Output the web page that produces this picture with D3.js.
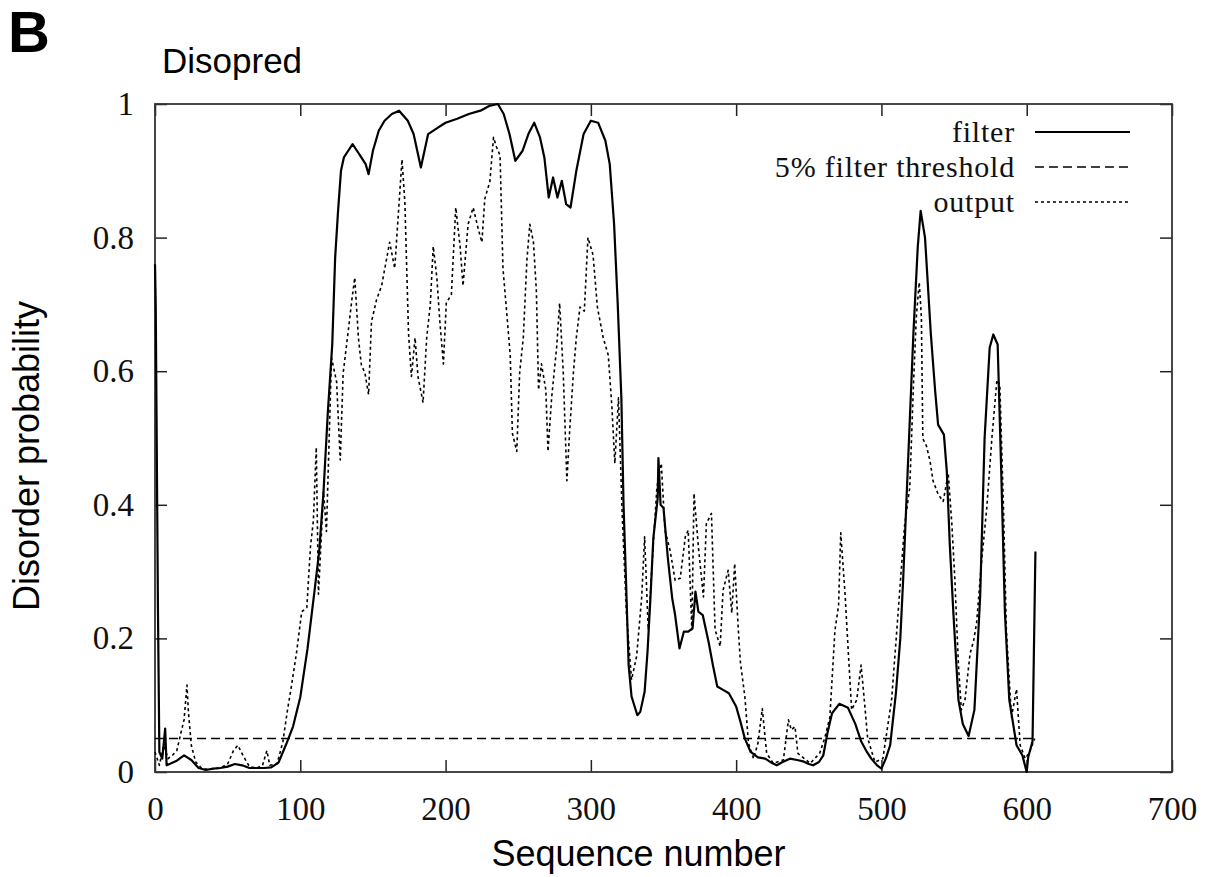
<!DOCTYPE html>
<html>
<head>
<meta charset="utf-8">
<script src="https://cdn.jsdelivr.net/npm/d3@7"></script>
<style>
  body { margin: 0; background: #fff; }
  svg { display: block; }
</style>
</head>
<body>
<svg id="chart"></svg>
<script>
var width = 1210,
    height = 877,
    plotLeft = 155,
    plotRight = 1172,
    plotTop = 104,
    plotBottom = 772;

// sequence positions and probabilities
var filterSeq = [0, 0.5, 1, 2, 3, 5, 7, 8, 10, 15, 20, 25, 30, 35, 40, 45, 50, 55, 60, 65, 70, 75, 80, 85, 90, 95,
    100, 105, 110, 113, 116, 119, 122, 124, 126, 128, 130, 133, 136, 139, 142, 145, 147, 150, 154, 158,
    163, 168, 174, 178, 183, 188, 195, 200, 208, 216, 224, 230, 236, 240, 244, 248, 253, 257, 261, 265,
    268, 271, 274, 277, 280, 283, 286, 290, 295, 300, 305, 310, 313, 316, 318.5, 321, 322.5, 324, 326,
    328, 332, 334, 337, 339, 341, 343, 346, 346.5, 348, 350, 353, 356, 358, 361, 364, 367, 370, 372, 374,
    377, 381, 384, 387, 391, 395, 400, 403, 406, 410, 415, 420, 425, 428, 432, 437, 442, 446, 450, 453,
    457, 460, 463, 466, 471, 477, 482, 486, 490, 493, 497, 500, 503, 506, 510, 513, 515, 518, 522, 525,
    527, 530, 534, 537, 539, 543, 545, 547, 549.5, 553, 556, 560, 564, 568, 571, 574.5, 577, 580, 582.5,
    585, 588, 593, 597, 600, 601, 604, 606];
var filterProb = [0.76, 0.70, 0.55, 0.25, 0.03, 0.02, 0.065, 0.01, 0.012, 0.017, 0.025, 0.018, 0.006, 0.003, 0.005,
    0.006, 0.008, 0.012, 0.010, 0.006, 0.006, 0.006, 0.007, 0.014, 0.040, 0.068,
    0.112, 0.185, 0.275, 0.33, 0.42, 0.54, 0.64, 0.77, 0.84, 0.90, 0.92, 0.93, 0.94, 0.93, 0.92, 0.91, 0.895,
    0.93, 0.96, 0.975, 0.985, 0.99, 0.975, 0.955, 0.905, 0.955, 0.965, 0.972, 0.978, 0.985, 0.99, 0.997, 1.0,
    0.985, 0.955, 0.915, 0.93, 0.955, 0.972, 0.95, 0.92, 0.86, 0.89, 0.86, 0.885, 0.85, 0.845, 0.9, 0.955,
    0.975, 0.972, 0.945, 0.91, 0.82, 0.70, 0.56, 0.40, 0.30, 0.16, 0.113, 0.085, 0.09, 0.12, 0.18, 0.26,
    0.35, 0.41, 0.47, 0.40, 0.395, 0.32, 0.26, 0.235, 0.185, 0.21, 0.21, 0.215, 0.27, 0.24, 0.235, 0.195,
    0.16, 0.128, 0.123, 0.118, 0.098, 0.075, 0.05, 0.03, 0.022, 0.02, 0.013, 0.01, 0.015, 0.02, 0.018,
    0.016, 0.012, 0.010, 0.015, 0.025, 0.06, 0.088, 0.102, 0.096, 0.072, 0.046, 0.03, 0.02, 0.01, 0.005,
    0.02, 0.04, 0.119, 0.2, 0.29, 0.447, 0.656, 0.786, 0.84, 0.80, 0.656, 0.57, 0.52, 0.505, 0.45, 0.343,
    0.239, 0.108, 0.072, 0.054, 0.093, 0.265, 0.499, 0.635, 0.655, 0.64, 0.447, 0.239, 0.108, 0.04, 0.025,
    0.0, 0.022, 0.046, 0.33];

var outputSeq = [0, 3, 6, 9, 12, 15, 18, 20, 22, 23, 25, 28, 32, 36, 40, 45, 50, 54, 57, 61, 65, 70, 74, 77,
    79, 84, 88, 91, 94, 97.5, 101, 104.5, 107, 109, 111, 112.5, 116, 118, 121.5, 125, 127.5, 129.5, 133,
    135.5, 137.5, 140, 142, 144.5, 147, 149, 152.5, 156, 161.5, 165, 170, 172, 174.5, 176.5, 179, 181,
    184.5, 187, 189.5, 191.5, 194, 196, 198.5, 200.5, 204, 207, 210, 212, 215.5, 219, 222.5, 225, 227,
    230.5, 233, 235, 237.5, 239.5, 242, 244.5, 246, 249, 251, 253.5, 256, 258, 260.5, 262.5, 264, 266,
    269, 270.5, 273, 276.5, 278.5, 281, 283.5, 285.5, 288, 290, 292.5, 295.5, 298, 301.5, 304.5, 308.5,
    312, 314.5, 316.5, 319, 321.5, 324.5, 328, 331.5, 335, 337, 339.5, 343, 345.5, 348.5, 351, 354.5,
    358, 361.5, 365, 367, 369.5, 371, 374, 377.5, 379.5, 383, 385.5, 389, 391, 394.5, 397, 399, 401.5,
    403, 406, 408.5, 412, 415, 418, 421, 425.5, 432.5, 436, 438, 440.5, 442.5, 451, 457.5, 461, 464.5,
    468, 470.5, 472, 475, 477, 479.5, 483, 486, 488, 490.5, 495.5, 501, 507, 511.5, 515, 516, 519.5, 522,
    524, 526, 527.5, 528.5, 531, 533.5, 535.5, 539, 542.5, 546, 548.5, 550.5, 553, 555, 557.5, 561,
    563.5, 565.5, 569, 572.5, 576, 579.5, 581.5, 584, 586, 589.5, 593, 595.5, 599, 602, 605.5];
var outputProb = [0.03, 0.01, 0.04, 0.02, 0.025, 0.032, 0.06, 0.078, 0.13, 0.09, 0.04, 0.015, 0.006, 0.004,
    0.005, 0.006, 0.012, 0.032, 0.04, 0.023, 0.008, 0.006, 0.01, 0.032, 0.01, 0.012, 0.045, 0.09, 0.13,
    0.18, 0.24, 0.246, 0.337, 0.376, 0.486, 0.266, 0.42, 0.36, 0.62, 0.584, 0.467, 0.597, 0.66, 0.707,
    0.74, 0.65, 0.61, 0.597, 0.565, 0.674, 0.707, 0.728, 0.793, 0.754, 0.917, 0.852, 0.657, 0.592, 0.65,
    0.592, 0.553, 0.65, 0.70, 0.787, 0.74, 0.676, 0.611, 0.702, 0.715, 0.845, 0.787, 0.728, 0.82, 0.845,
    0.813, 0.793, 0.858, 0.884, 0.95, 0.936, 0.923, 0.754, 0.69, 0.624, 0.507, 0.48, 0.598, 0.65, 0.767,
    0.82, 0.793, 0.72, 0.572, 0.611, 0.572, 0.48, 0.56, 0.637, 0.702, 0.598, 0.436, 0.514, 0.598, 0.65,
    0.696, 0.69, 0.80, 0.774, 0.696, 0.65, 0.624, 0.546, 0.462, 0.56, 0.39, 0.238, 0.138, 0.173, 0.262,
    0.352, 0.213, 0.342, 0.427, 0.462, 0.362, 0.332, 0.287, 0.29, 0.352, 0.362, 0.213, 0.417, 0.337,
    0.262, 0.372, 0.387, 0.213, 0.188, 0.272, 0.302, 0.238, 0.312, 0.213, 0.163, 0.113, 0.043, 0.02,
    0.043, 0.095, 0.028, 0.013, 0.018, 0.078, 0.063, 0.068, 0.028, 0.013, 0.028, 0.051, 0.082, 0.212,
    0.249, 0.358, 0.265, 0.187, 0.093, 0.108, 0.16, 0.113, 0.051, 0.015, 0.02, 0.108, 0.239, 0.343, 0.37,
    0.426, 0.577, 0.681, 0.733, 0.681, 0.499, 0.488, 0.465, 0.436, 0.416, 0.405, 0.447, 0.37, 0.29, 0.16,
    0.093, 0.108, 0.177, 0.197, 0.223, 0.317, 0.395, 0.499, 0.587, 0.58, 0.395, 0.212, 0.082, 0.124,
    0.04, 0.02, 0.03, 0.05];

var thresholdSeq = [0, 607];
var thresholdProb = [0.05, 0.05];

var xTicks = [0, 100, 200, 300, 400, 500, 600, 700];
var yTicks = [0, 0.2, 0.4, 0.6, 0.8, 1];
var yTickLabels = ['0', '0.2', '0.4', '0.6', '0.8', '1'];

var legendNames = ['filter', '5% filter threshold', 'output'];

var serif = '"Liberation Serif", "DejaVu Serif", serif',
    sans = '"Liberation Sans", Arial, sans-serif';

var svg = d3.select('svg#chart')
    .attr('width', width)
    .attr('height', height);

var x = d3.scaleLinear().domain([0, 700]).range([plotLeft, plotRight]);
var y = d3.scaleLinear().domain([0, 1]).range([plotBottom, plotTop]);

function styleAxis(g) {
    g.select('.domain').remove();
    g.selectAll('.tick line').attr('stroke', '#222').attr('stroke-width', 1.5);
    g.selectAll('.tick text')
        .attr('fill', '#111')
        .style('font-family', serif)
        .style('font-size', '33px');
}

svg.append('g')
    .attr('transform', 'translate(0,' + plotBottom + ')')
    .call(d3.axisBottom(x).tickValues(xTicks).tickSize(-12).tickPadding(25).tickFormat(d3.format('d')))
    .call(styleAxis);

svg.append('g')
    .attr('transform', 'translate(0,' + plotTop + ')')
    .call(d3.axisTop(x).tickValues(xTicks).tickSize(-12).tickFormat(''))
    .call(styleAxis);

svg.append('g')
    .attr('transform', 'translate(' + plotLeft + ',0)')
    .call(d3.axisLeft(y).tickValues(yTicks).tickSize(-12).tickPadding(21)
        .tickFormat(function(d, i) { return yTickLabels[i]; }))
    .call(styleAxis);

svg.append('g')
    .attr('transform', 'translate(' + plotRight + ',0)')
    .call(d3.axisRight(y).tickValues(yTicks).tickSize(-12).tickFormat(''))
    .call(styleAxis);

svg.append('rect')
    .attr('x', plotLeft)
    .attr('y', plotTop)
    .attr('width', plotRight - plotLeft)
    .attr('height', plotBottom - plotTop)
    .attr('fill', 'none')
    .attr('stroke', '#333')
    .attr('stroke-width', 1.8);

function drawSeries(seq, prob, dash, lineWidth) {
    var line = d3.line()
        .x(function(d) { return x(seq[d]); })
        .y(function(d) { return y(prob[d]); });
    svg.append('path')
        .datum(d3.range(seq.length))
        .attr('d', line)
        .attr('fill', 'none')
        .attr('stroke', '#000')
        .attr('stroke-width', lineWidth)
        .attr('stroke-linejoin', 'round')
        .attr('stroke-dasharray', dash);
}

drawSeries(thresholdSeq, thresholdProb, '9,5', 1.5);
drawSeries(outputSeq, outputProb, '3,3', 1.6);
drawSeries(filterSeq, filterProb, null, 2.2);

// legend
var legendDash = [null, '9,5', '3,3'];
var legendWidth = [2.2, 1.5, 1.4];
legendNames.forEach(function(name, i) {
    var baseline = 142 + i * 35;
    svg.append('text')
        .attr('x', 1015)
        .attr('y', baseline)
        .attr('text-anchor', 'end')
        .style('font-family', serif)
        .style('font-size', '30px')
        .style('letter-spacing', '0.8px')
        .attr('fill', '#111')
        .text(name);
    svg.append('line')
        .attr('x1', 1035)
        .attr('x2', 1130)
        .attr('y1', baseline - 10)
        .attr('y2', baseline - 10)
        .attr('stroke', '#000')
        .attr('stroke-width', legendWidth[i])
        .attr('stroke-dasharray', legendDash[i]);
});

// titles
svg.append('text')
    .attr('x', 8)
    .attr('y', 52)
    .style('font-family', sans)
    .style('font-weight', 'bold')
    .style('font-size', '58px')
    .text('B');

svg.append('text')
    .attr('x', 162)
    .attr('y', 73)
    .style('font-family', sans)
    .style('font-size', '35px')
    .text('Disopred');

svg.append('text')
    .attr('x', (plotLeft + plotRight) / 2 - 25)
    .attr('y', 866)
    .attr('text-anchor', 'middle')
    .style('font-family', sans)
    .style('font-size', '36px')
    .text('Sequence number');

svg.append('text')
    .attr('transform', 'translate(39,' + 456 + ') rotate(-90)')
    .attr('text-anchor', 'middle')
    .style('font-family', sans)
    .style('font-size', '36px')
    .text('Disorder probability');
</script>
</body>
</html>
